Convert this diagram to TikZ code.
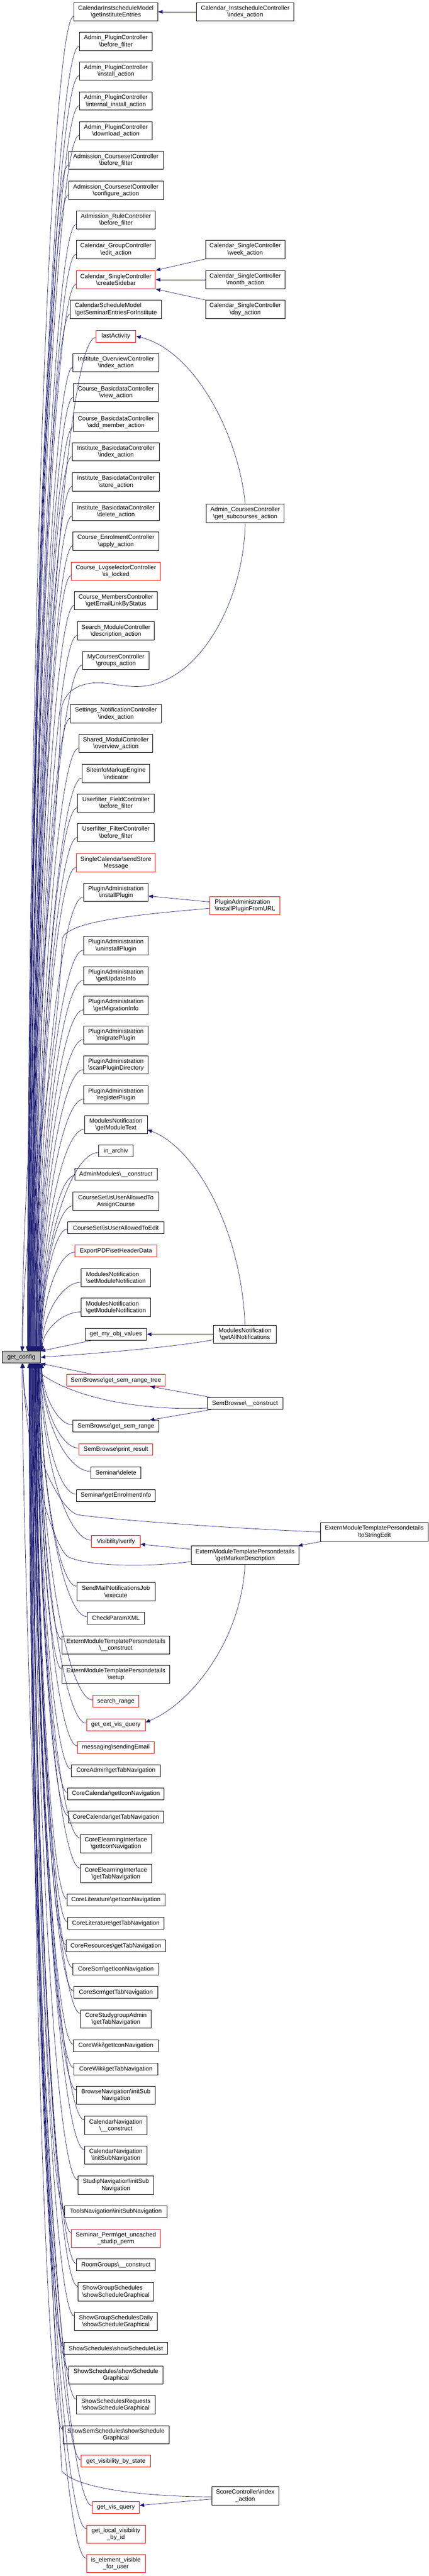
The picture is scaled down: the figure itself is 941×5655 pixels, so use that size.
\documentclass[tikz,border=0pt]{standalone}
\usepackage{fontspec}
\setmainfont{Liberation Sans}
\usetikzlibrary{arrows.meta,calc}
\definecolor{mblue}{HTML}{191970}
\definecolor{gcfill}{HTML}{BFBFBF}
\newcommand\BSL{\textbackslash}
\newcommand\CN[5]{\node[fn,bw=#3,#4] (#1) at (254.5,#2) {#5};}
\newcommand\ga[2]{\draw[cedge] let \p1=($(#1.west)+(0,#2)$), \p3=(gc.north), \n1={min(abs(\y1-\y3),2175)/2175}, \p2=($(gc.north west)+({42+25*(1-\n1)},0)$) in (\p1) .. controls ({0.5*\x1+0.5*\x2},\y1) and (\x2,{0.5*\y1+0.5*\y2}) .. (\p2);}
\newcommand\gb[2]{\draw[cedge] let \p1=($(#1.west)+(0,#2)$), \p3=(gc.south), \n1={min(abs(\y1-\y3),2175)/2175}, \p2=($(gc.south west)+({42+25*(1-\n1)},0)$) in (\p1) .. controls ({0.5*\x1+0.5*\x2},\y1) and (\x2,{0.5*\y1+0.5*\y2}) .. (\p2);}
\tikzset{
 fn/.style={draw=black, fill=white, line width=0.8pt, inner sep=1pt, align=center, font=\fontsize{10pt}{11.25pt}\selectfont, minimum height=30pt},
 one/.style={minimum height=19.5pt},
 rd/.style={draw=red},
 lft/.style={align=left},
 bw/.style={minimum width={#1*0.75pt}},
 cedge/.style={draw=mblue, line width=0.6pt, -{Triangle[length=7.5pt,width=6pt]}},
}
\begin{document}
\begin{tikzpicture}[x=0.75pt,y=-0.75pt]
\useasboundingbox (0,0) rectangle (941,5655);
% central node
\node[fn,bw=84,one,fill=gcfill] (gc) at (47,2979.5) {get\_config};
% column 1
\CN{n1}{26}{184}{}{CalendarInstscheduleModel\\\BSL getInstituteEntries}
\CN{n2}{91}{160}{}{Admin\_PluginController\\\BSL before\_filter}
\CN{n3}{156}{160}{}{Admin\_PluginController\\\BSL install\_action}
\CN{n4}{222}{160}{}{Admin\_PluginController\\\BSL internal\_install\_action}
\CN{n5}{287}{160}{}{Admin\_PluginController\\\BSL download\_action}
\CN{n6}{352}{208}{}{Admission\_CoursesetController\\\BSL before\_filter}
\CN{n7}{418}{208}{}{Admission\_CoursesetController\\\BSL configure\_action}
\CN{n8}{483}{174}{}{Admission\_RuleController\\\BSL before\_filter}
\CN{n9}{548}{174}{}{Calendar\_GroupController\\\BSL edit\_action}
\CN{n10}{614}{174}{rd}{Calendar\_SingleController\\\BSL createSidebar}
\CN{n11}{679}{200}{lft}{CalendarScheduleModel\\\BSL getSeminarEntriesForInstitute}
\CN{n12}{738}{88}{one,rd}{lastActivity}
\CN{n13}{796}{188}{}{Institute\_OverviewController\\\BSL index\_action}
\CN{n14}{862}{186}{}{Course\_BasicdataController\\\BSL view\_action}
\CN{n15}{927}{186}{}{Course\_BasicdataController\\\BSL add\_member\_action}
\CN{n16}{992}{192}{}{Institute\_BasicdataController\\\BSL index\_action}
\CN{n17}{1058}{192}{}{Institute\_BasicdataController\\\BSL store\_action}
\CN{n18}{1123}{192}{}{Institute\_BasicdataController\\\BSL delete\_action}
\CN{n19}{1188}{188}{}{Course\_EnrolmentController\\\BSL apply\_action}
\CN{n20}{1254}{196}{rd}{Course\_LvgselectorController\\\BSL is\_locked}
\CN{n21}{1319}{182}{}{Course\_MembersController\\\BSL getEmailLinkByStatus}
\CN{n22}{1385}{169}{}{Search\_ModuleController\\\BSL description\_action}
\CN{n23}{1450}{146}{}{MyCoursesController\\\BSL groups\_action}
\CN{n24}{1567}{200}{}{Settings\_NotificationController\\\BSL index\_action}
\CN{n25}{1632}{162}{}{Shared\_ModulController\\\BSL overview\_action}
\CN{n26}{1698}{149}{}{SiteinfoMarkupEngine\\\BSL indicator}
\CN{n27}{1763}{168}{}{Userfilter\_FieldController\\\BSL before\_filter}
\CN{n28}{1828}{168}{}{Userfilter\_FilterController\\\BSL before\_filter}
\CN{n29}{1894}{174}{rd}{SingleCalendar\BSL sendStore\\Message}
\CN{n30}{1959}{142}{}{PluginAdministration\\\BSL installPlugin}
\CN{n31}{2076}{142}{}{PluginAdministration\\\BSL uninstallPlugin}
\CN{n32}{2142}{142}{}{PluginAdministration\\\BSL getUpdateInfo}
\CN{n33}{2207}{142}{}{PluginAdministration\\\BSL getMigrationInfo}
\CN{n34}{2272}{142}{}{PluginAdministration\\\BSL migratePlugin}
\CN{n35}{2338}{142}{}{PluginAdministration\\\BSL scanPluginDirectory}
\CN{n36}{2403}{142}{}{PluginAdministration\\\BSL registerPlugin}
\CN{n37}{2469}{138}{}{ModulesNotification\\\BSL getModuleText}
\CN{n38}{2527}{75}{one}{in\_archiv}
\CN{n39}{2578}{181}{one}{AdminModules\BSL\_\_construct}
\CN{n40}{2637}{188}{}{CourseSet\BSL isUserAllowedTo\\AssignCourse}
\CN{n41}{2695}{212}{one}{CourseSet\BSL isUserAllowedToEdit}
\CN{n42}{2746}{180}{one,rd}{ExportPDF\BSL setHeaderData}
\CN{n43}{2805}{153}{lft}{ModulesNotification\\\BSL setModuleNotification}
\CN{n44}{2870}{153}{lft}{ModulesNotification\\\BSL getModuleNotification}
\CN{n45}{2929}{135}{one}{get\_my\_obj\_values}
\CN{n46}{3030}{216}{one,rd}{SemBrowse\BSL get\_sem\_range\_tree}
\CN{n47}{3131}{188}{one}{SemBrowse\BSL get\_sem\_range}
\CN{n48}{3182}{162}{one,rd}{SemBrowse\BSL print\_result}
\CN{n49}{3233}{110}{one}{Seminar\BSL delete}
\CN{n50}{3283}{174}{one}{Seminar\BSL getEnrolmentInfo}
\CN{n51}{3384}{107}{one,rd}{Visibility\BSL verify}
\CN{n52}{3494}{172}{}{SendMailNotificationsJob\\\BSL execute}
\CN{n53}{3552}{126}{one}{CheckParamXML}
\CN{n54}{3611}{237}{}{ExternModuleTemplatePersondetails\\\BSL\_\_construct}
\CN{n55}{3676}{237}{}{ExternModuleTemplatePersondetails\\\BSL setup}
\CN{n56}{3735}{100}{one,rd}{search\_range}
\CN{n57}{3786}{129}{one,rd}{get\_ext\_vis\_query}
\CN{n58}{3836}{168}{one,rd}{messaging\BSL sendingEmail}
\CN{n59}{3887}{195}{one}{CoreAdmin\BSL getTabNavigation}
\CN{n60}{3938}{212}{one}{CoreCalendar\BSL getIconNavigation}
\CN{n61}{3989}{209}{one}{CoreCalendar\BSL getTabNavigation}
\CN{n62}{4047}{156}{}{CoreElearningInterface\\\BSL getIconNavigation}
\CN{n63}{4113}{156}{}{CoreElearningInterface\\\BSL getTabNavigation}
\CN{n64}{4171}{215}{one}{CoreLiterature\BSL getIconNavigation}
\CN{n65}{4222}{212}{one}{CoreLiterature\BSL getTabNavigation}
\CN{n66}{4272}{219}{one}{CoreResources\BSL getTabNavigation}
\CN{n67}{4323}{188}{one}{CoreScm\BSL getIconNavigation}
\CN{n68}{4374}{185}{one}{CoreScm\BSL getTabNavigation}
\CN{n69}{4432}{155}{}{CoreStudygroupAdmin\\\BSL getTabNavigation}
\CN{n70}{4491}{186}{one}{CoreWiki\BSL getIconNavigation}
\CN{n71}{4542}{185}{one}{CoreWiki\BSL getTabNavigation}
\CN{n72}{4600}{173}{}{BrowseNavigation\BSL initSub\\Navigation}
\CN{n73}{4666}{137}{}{CalendarNavigation\\\BSL\_\_construct}
\CN{n74}{4731}{137}{}{CalendarNavigation\\\BSL initSubNavigation}
\CN{n75}{4797}{167}{}{StudipNavigation\BSL initSub\\Navigation}
\CN{n76}{4855}{225}{one}{ToolsNavigation\BSL initSubNavigation}
\CN{n77}{4914}{195}{rd}{Seminar\_Perm\BSL get\_uncached\\\_studip\_perm}
\CN{n78}{4972}{173}{one}{RoomGroups\BSL\_\_construct}
\CN{n79}{5031}{167}{lft}{ShowGroupSchedules\\\BSL showScheduleGraphical}
\CN{n80}{5096}{182}{}{ShowGroupSchedulesDaily\\\BSL showScheduleGraphical}
\CN{n81}{5155}{228}{one}{ShowSchedules\BSL showScheduleList}
\CN{n82}{5214}{206}{}{ShowSchedules\BSL showSchedule\\Graphical}
\CN{n83}{5279}{173}{}{ShowSchedulesRequests\\\BSL showScheduleGraphical}
\CN{n84}{5345}{233}{}{ShowSemSchedules\BSL showSchedule\\Graphical}
\CN{n85}{5403}{152}{one,rd}{get\_visibility\_by\_state}
\CN{n86}{5504}{103}{one,rd}{get\_vis\_query}
\CN{n87}{5563}{129}{rd}{get\_local\_visibility\\\_by\_id}
\CN{n88}{5628}{129}{rd}{is\_element\_visible\\\_for\_user}
% column 2
\node[fn,bw=213] (c1) at (538.5,26) {Calendar\_InstscheduleController\\\BSL index\_action};
\node[fn,bw=174] (c2) at (538.5,548) {Calendar\_SingleController\\\BSL week\_action};
\node[fn,bw=174] (c3) at (538.5,614) {Calendar\_SingleController\\\BSL month\_action};
\node[fn,bw=174] (c4) at (538.5,679) {Calendar\_SingleController\\\BSL day\_action};
\node[fn,bw=171] (c5) at (538.5,1127) {Admin\_CoursesController\\\BSL get\_subcourses\_action};
\node[fn,bw=154,rd,lft] (c6) at (538,1988) {PluginAdministration\\\BSL installPluginFromURL};
\node[fn,bw=138] (c7) at (538,2929) {ModulesNotification\\\BSL getAllNotifications};
\node[fn,bw=166,one] (c8) at (538,3081) {SemBrowse\BSL\_\_construct};
\node[fn,bw=236] (c9) at (538,3414) {ExternModuleTemplatePersondetails\\\BSL getMarkerDescription};
\node[fn,bw=147] (c10) at (538.5,5479) {ScoreController\BSL index\\\_action};
\node[fn,bw=237] (c11) at (822,3363) {ExternModuleTemplatePersondetails\\\BSL toStringEdit};
% edges: column 1 -> get_config (above)
\ga{n1}{10}\ga{n2}{10}\ga{n3}{10}\ga{n4}{10}\ga{n5}{10}\ga{n6}{10}\ga{n7}{10}\ga{n8}{10}
\ga{n9}{10}\ga{n10}{10}\ga{n11}{10}\ga{n12}{3}\ga{n13}{10}\ga{n14}{10}\ga{n15}{10}\ga{n16}{10}
\ga{n17}{10}\ga{n18}{10}\ga{n19}{10}\ga{n20}{10}\ga{n21}{10}\ga{n22}{10}\ga{n23}{10}\ga{n24}{10}
\ga{n25}{10}\ga{n26}{10}\ga{n27}{10}\ga{n28}{10}\ga{n29}{10}\ga{n30}{10}\ga{n31}{10}\ga{n32}{10}
\ga{n33}{10}\ga{n34}{10}\ga{n35}{10}\ga{n36}{10}\ga{n37}{10}\ga{n38}{3}\ga{n39}{3}\ga{n40}{10}
\ga{n41}{3}\ga{n42}{3}\ga{n43}{10}\ga{n44}{10}
\draw[cedge] ($(n45.south west)+(15,0)$) -- (gc.north east);
% edges: column 1 -> get_config (below)
\draw[cedge] ($(n46.north west)+(55,0)$) -- (gc.south east);
\gb{n47}{-3}\gb{n48}{-3}\gb{n49}{-3}\gb{n50}{-3}\gb{n51}{-3}\gb{n52}{-12}\gb{n53}{-3}\gb{n54}{-12}
\gb{n55}{-12}\gb{n56}{-3}\gb{n57}{-3}\gb{n58}{-3}\gb{n59}{-3}\gb{n60}{-3}\gb{n61}{-3}\gb{n62}{-12}
\gb{n63}{-12}\gb{n64}{-3}\gb{n65}{-3}\gb{n66}{-3}\gb{n67}{-3}\gb{n68}{-3}\gb{n69}{-12}\gb{n70}{-3}
\gb{n71}{-3}\gb{n72}{-12}\gb{n73}{-12}\gb{n74}{-12}\gb{n75}{-12}\gb{n76}{-3}\gb{n77}{-12}\gb{n78}{-3}
\gb{n79}{-12}\gb{n80}{-12}\gb{n81}{-3}\gb{n82}{-12}\gb{n83}{-12}\gb{n84}{-12}\gb{n85}{-3}\gb{n86}{-3}
\gb{n87}{-12}\gb{n88}{-12}
% edges from column 2
\draw[cedge] (c1.west) -- (n1.east);
\draw[cedge] (c2.south west) -- (n10.north east);
\draw[cedge] (c3.west) -- (n10.east);
\draw[cedge] (c4.north west) -- (n10.south east);
\draw[cedge] (c5.north) .. controls (525,960) and (430,770) .. (n12.east);
\draw[cedge] (c5.south) .. controls (535,1330) and (430,1507) .. (301,1507)
  .. controls (260,1507) and (235,1497) .. (208,1499)
  .. controls (165,1502) and (140,1522) .. (134,1560)
  .. controls (120,2000) and (50,2400) .. ($(gc.north west)+(44,0)$);
\draw[cedge] ($(c6.west)+(0,-8)$) -- ($(n30.east)+(0,8)$);
\draw[cedge] ($(c6.west)+(0,6)$) .. controls (300,2008) and (150,2022) .. (137,2060)
  .. controls (122,2400) and (52,2600) .. ($(gc.north west)+(45,0)$);
\draw[cedge] (c7.north) .. controls (530,2700) and (430,2520) .. ($(n37.east)+(0,11)$);
\draw[cedge] (c7.west) -- (n45.east);
\draw[cedge] ($(c7.west)+(0,12)$) .. controls (380,2958) and (200,2972) .. (gc.east);
\draw[cedge] ($(c8.north west)+(9,0)$) -- ($(n46.south east)+(-33,0)$);
\draw[cedge] ($(c8.south west)+(9,0)$) -- ($(n47.north east)+(-20,0)$);
\draw[cedge] ($(c8.west)+(0,10)$) .. controls (330,3097) and (150,3075) .. ($(gc.south)+(16,0)$);
\draw[cedge] ($(c11.south west)+(5,0)$) -- ($(c9.north east)+(-2,0)$);
\draw[cedge] (c11.west) .. controls (500,3355) and (230,3335) .. (170,3325)
  .. controls (125,3312) and (55,3150) .. ($(gc.south west)+(45,0)$);
\draw[cedge] ($(c9.west)+(0,-13)$) -- ($(n51.east)+(0,6)$);
\draw[cedge] ($(c9.west)+(0,14)$) .. controls (330,3440) and (200,3440) .. (150,3418)
  .. controls (120,3400) and (55,3200) .. ($(gc.south west)+(46,0)$);
\draw[cedge] (c9.south) .. controls (530,3600) and (420,3740) .. ($(n57.east)+(0,-5)$);
\draw[cedge] ($(c10.west)+(0,2)$) .. controls (330,5481) and (170,5465) .. (136,5425)
  .. controls (110,5000) and (50,3500) .. ($(gc.south west)+(44,0)$);
\draw[cedge] ($(c10.west)+(0,7)$) -- ($(n86.east)+(0,-4)$);
\end{tikzpicture}
\end{document}
